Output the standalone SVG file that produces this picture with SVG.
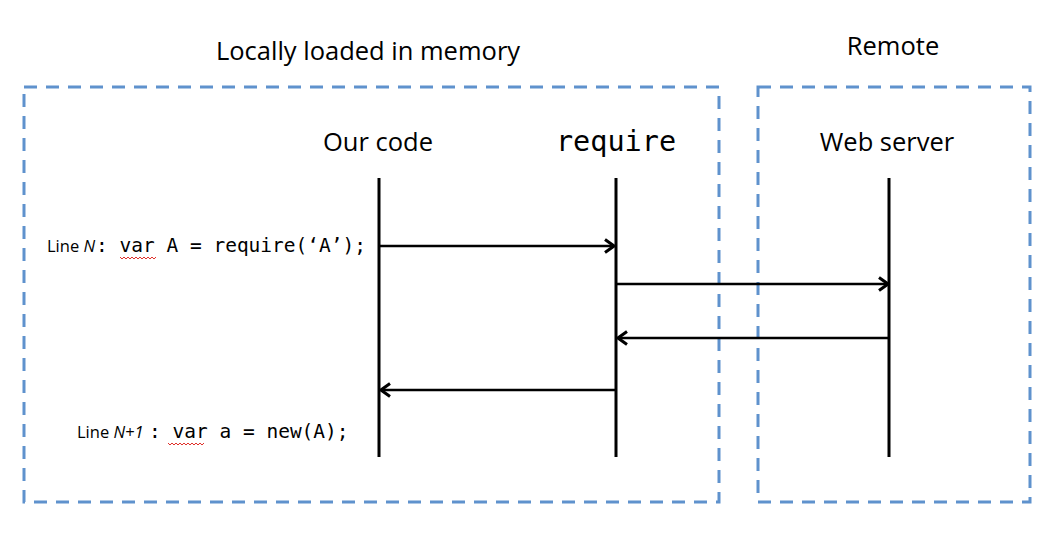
<svg xmlns="http://www.w3.org/2000/svg" width="1058" height="535" viewBox="0 0 1058 535">
<style>
.box{fill:none;stroke:#5f92cd;stroke-width:3;stroke-dasharray:13 9}
.title{font-family:"Open Sans","Liberation Sans",sans-serif;font-size:25.5px;fill:#000;text-anchor:middle}
.hdr{font-family:"Open Sans","Liberation Sans",sans-serif;font-size:25.5px;fill:#000;text-anchor:middle}
.mono{font-family:"DejaVu Sans Mono","Liberation Mono",monospace}
.life{stroke:#000;stroke-width:3;fill:none}
.msg{stroke:#000;stroke-width:2.5;fill:none}
.lbl{font-family:"Open Sans","Liberation Sans",sans-serif;font-size:16.5px;fill:#000}
.code{font-family:"DejaVu Sans Mono","Liberation Mono",monospace;font-size:19.5px;fill:#000}
.sq{stroke:#e0302a;stroke-width:1;fill:none}
</style>
<defs>
<marker id="ah" viewBox="0 0 12 16" refX="11" refY="8" markerWidth="12" markerHeight="16" markerUnits="userSpaceOnUse" orient="auto">
<path d="M2,1.5 L11,8 L2,14.5" fill="none" stroke="#000" stroke-width="3" stroke-linejoin="miter"/>
</marker>
</defs>
<rect width="1058" height="535" fill="#fff"/>
<g id="local-box">
<rect class="box" x="24" y="87" width="695" height="415"/>
<text class="title" x="368" y="60">Locally loaded in memory</text>
</g>
<g id="remote-box">
<rect class="box" x="758" y="87" width="272" height="415"/>
<text class="title" x="893" y="55">Remote</text>
</g>
<g id="our-code">
<text class="hdr" x="378" y="151">Our code</text>
<line class="life" x1="379" y1="178" x2="379" y2="457"/>
</g>
<g id="require">
<text class="mono" x="616" y="151" font-size="28.5" text-anchor="middle">require</text>
<line class="life" x1="616" y1="178" x2="616" y2="457"/>
</g>
<g id="web-server">
<text class="hdr" x="887" y="151">Web server</text>
<line class="life" x1="889" y1="178" x2="889" y2="457"/>
</g>
<g id="connectors">
<line class="msg" x1="379" y1="246" x2="614" y2="246" marker-end="url(#ah)"/>
<line class="msg" x1="616" y1="284" x2="888" y2="284" marker-end="url(#ah)"/>
<line class="msg" x1="889" y1="338" x2="618" y2="338" marker-end="url(#ah)"/>
<line class="msg" x1="616" y1="390" x2="381" y2="390" marker-end="url(#ah)"/>
</g>
<g id="line-n">
<text x="47" y="252"><tspan class="lbl">Line </tspan><tspan class="lbl" font-style="italic">N</tspan></text>
<text class="code" x="96" y="252">: var A = require(‘A’);</text>
<path class="sq" d="M120,257 l2,2 l2,-2 l2,2 l2,-2 l2,2 l2,-2 l2,2 l2,-2 l2,2 l2,-2 l2,2 l2,-2 l2,2 l2,-2 l2,2 l2,-2 l2,2 l2,-2"/>
</g>
<g id="line-n1">
<text x="77" y="438"><tspan class="lbl">Line </tspan><tspan class="lbl" font-style="italic">N+1</tspan></text>
<text class="code" x="149" y="438">: var a = new(A);</text>
<path class="sq" d="M168,443 l2,2 l2,-2 l2,2 l2,-2 l2,2 l2,-2 l2,2 l2,-2 l2,2 l2,-2 l2,2 l2,-2 l2,2 l2,-2 l2,2 l2,-2 l2,2 l2,-2"/>
</g>
</svg>
